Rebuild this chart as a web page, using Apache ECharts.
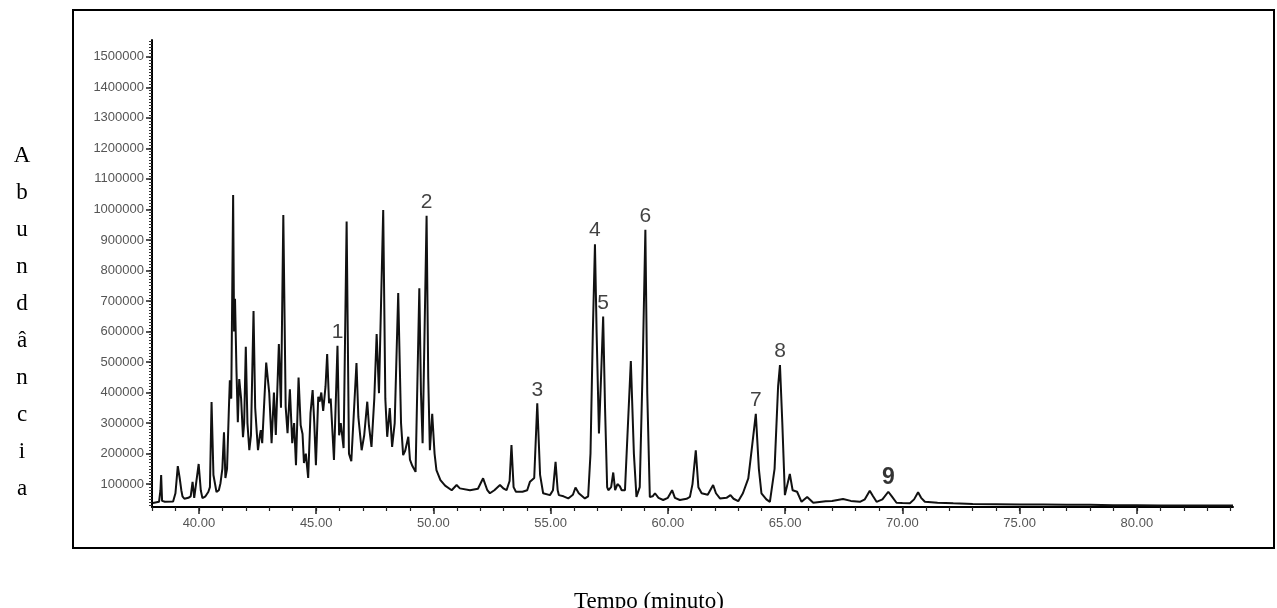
<!DOCTYPE html>
<html>
<head>
<meta charset="utf-8">
<script src="https://cdn.jsdelivr.net/npm/echarts@6/dist/echarts.min.js"></script>
<style>
html,body{margin:0;padding:0;background:#fff;}
#chart{width:1277px;height:608px;}
</style>
</head>
<body>
<div id="chart"></div>
<script>
// Retention time (minutes)
const times = [
38.04,38.30,38.36,38.39,38.43,38.55,38.90,39.00,39.10,39.18,39.25,39.30,39.38,39.55,39.65,39.73,39.80,39.88,39.99,40.08,
40.15,40.28,40.40,40.47,40.54,40.62,40.75,40.85,40.92,41.00,41.07,41.13,41.20,41.28,41.32,41.38,41.46,41.50,41.54,41.60,
41.66,41.72,41.80,41.88,41.93,42.00,42.07,42.15,42.22,42.33,42.40,42.47,42.52,42.60,42.64,42.70,42.87,43.00,43.10,43.20,
43.28,43.41,43.50,43.60,43.70,43.78,43.88,43.98,44.06,44.14,44.25,44.34,44.42,44.48,44.56,44.66,44.76,44.85,44.92,44.99,
45.09,45.15,45.22,45.30,45.40,45.47,45.55,45.62,45.76,45.85,45.91,45.98,46.05,46.17,46.30,46.40,46.50,46.58,46.72,46.80,
46.94,47.05,47.18,47.25,47.36,47.48,47.58,47.68,47.86,47.95,48.03,48.14,48.24,48.35,48.50,48.62,48.71,48.80,48.93,49.00,
49.10,49.24,49.40,49.47,49.54,49.71,49.78,49.85,49.95,49.99,50.05,50.13,50.30,50.50,50.78,50.99,51.13,51.56,51.90,52.12,
52.30,52.41,52.60,52.84,53.00,53.12,53.25,53.33,53.42,53.52,53.80,54.00,54.12,54.30,54.43,54.55,54.68,54.97,55.10,55.21,
55.30,55.35,55.55,55.75,55.95,56.06,56.20,56.46,56.60,56.70,56.80,56.89,56.96,57.06,57.15,57.24,57.32,57.41,57.46,57.58,
57.67,57.75,57.85,57.95,58.03,58.17,58.30,58.42,58.55,58.66,58.80,58.93,59.04,59.12,59.23,59.35,59.45,59.60,59.80,60.00,
60.18,60.30,60.51,60.80,60.94,61.05,61.19,61.30,61.44,61.70,61.93,62.05,62.22,62.50,62.67,62.80,63.00,63.20,63.43,63.60,
63.75,63.88,63.99,64.20,64.35,64.55,64.70,64.78,64.88,64.99,65.10,65.20,65.32,65.51,65.70,65.94,66.20,66.73,67.00,67.47,
67.80,68.19,68.40,68.61,68.75,68.90,69.15,69.40,69.55,69.75,70.00,70.32,70.50,70.67,70.80,70.96,71.50,72.17,73.00,74.00,
75.00,76.00,77.00,78.00,79.00,80.00,81.00,82.00,83.00,84.10
];
// Abundance
const abundance = [
38000,42000,80000,130000,45000,42000,43000,70000,159000,120000,80000,60000,52000,55000,60000,107000,55000,58000,166000,80000,
54000,60000,74000,90000,369000,130000,74000,80000,103000,150000,270000,120000,150000,350000,440000,380000,1047000,600000,707000,480000,
303000,444000,380000,254000,300000,550000,300000,211000,260000,667000,350000,267000,211000,260000,277000,234000,498000,398000,234000,400000,
261000,559000,350000,982000,354000,267000,411000,234000,300000,162000,449000,293000,264000,169000,200000,120000,333000,408000,300000,162000,
386000,370000,400000,340000,420000,526000,365000,380000,179000,400000,553000,260000,300000,218000,960000,200000,175000,169000,497000,320000,
211000,260000,370000,293000,222000,380000,592000,398000,998000,380000,255000,349000,222000,300000,726000,300000,195000,210000,255000,180000,
160000,140000,742000,400000,234000,979000,450000,211000,330000,333000,200000,146000,113000,95000,80000,97000,86000,80000,85000,119000,
80000,70000,80000,97000,85000,80000,110000,228000,90000,75000,75000,80000,108000,120000,365000,130000,70000,64000,80000,173000,
80000,64000,60000,53000,65000,89000,70000,53000,60000,200000,600000,886000,600000,266000,450000,649000,350000,90000,80000,90000,
138000,80000,100000,93000,80000,80000,300000,503000,200000,58000,90000,500000,933000,400000,58000,60000,70000,55000,48000,55000,
80000,55000,48000,52000,58000,100000,211000,90000,70000,65000,97000,70000,53000,55000,64000,52000,44000,70000,119000,230000,
330000,150000,70000,50000,42000,150000,420000,490000,300000,64000,100000,133000,80000,75000,42000,58000,39000,44000,45000,51000,
45000,42000,50000,78000,60000,42000,50000,75000,60000,39000,38000,37000,50000,73000,55000,42000,39000,37000,35000,34000,
33000,33000,32000,32000,31000,31000,30000,30000,30000,30000
];
// Peak annotations
const peakNames = ['1','2','3','4','5','6','7','8','9'];
const peakTimes = [45.91,49.71,54.43,56.89,57.24,59.04,63.75,64.78,69.40];
// Axis tick labels
const xTickLabels = [40,45,50,55,60,65,70,75,80];
const yTickLabels = [100000,200000,300000,400000,500000,600000,700000,800000,900000,1000000,1100000,1200000,1300000,1400000,1500000];
const xTitle = 'Tempo (minuto)';
const yTitle = 'Abundância';

const X_MIN = 38.0, X_MAX = 84.1, Y_MIN = 25000, Y_MAX = 1555000;

const series = times.map((t, i) => [t, abundance[i]]);
const peakPoints = peakTimes.map((pt, k) => {
  let best = 0;
  for (let i = 1; i < times.length; i++) {
    if (Math.abs(times[i] - pt) < Math.abs(times[best] - pt)) best = i;
  }
  return { value: [times[best], abundance[best]], name: peakNames[k],
    label: k === 8 ? { fontWeight: 'bold', fontSize: 23, color: '#000' } : {} };
});

const xMinor = []; for (let v = 38; v <= 84; v += 1) xMinor.push(v);
const yMinor = []; for (let v = 30000; v <= 1550000; v += 10000) yMinor.push(v);

const chart = echarts.init(document.getElementById('chart'), null, { renderer: 'canvas' });
const tickFont = { fontFamily: 'Liberation Sans, Arial, sans-serif', fontSize: 13, color: '#555' };

const letters = yTitle.split('');
const letterGraphics = letters.map((ch, i) => ({
  type: 'text', x: 22, y: 156 + i * 37, silent: true,
  style: { text: ch, fontFamily: 'Liberation Serif, Times New Roman, serif', fontSize: 23,
    fill: '#000', align: 'center', verticalAlign: 'middle' }
}));

chart.setOption({
  animation: false,
  backgroundColor: '#fff',
  grid: { left: 152, right: 44, top: 40, bottom: 101, containLabel: false },
  xAxis: [
    { type: 'value', min: X_MIN, max: X_MAX, position: 'bottom',
      axisLine: { show: true, onZero: false, lineStyle: { color: '#000', width: 2 } },
      axisTick: { show: true, customValues: xMinor, length: 4, lineStyle: { color: '#222', width: 1.2 } },
      axisLabel: { show: false }, splitLine: { show: false } },
    { type: 'value', min: X_MIN, max: X_MAX, position: 'bottom',
      axisLine: { show: false, onZero: false },
      axisTick: { show: true, customValues: xTickLabels, length: 7, lineStyle: { color: '#222', width: 1.5 } },
      axisLabel: Object.assign({ show: true, customValues: xTickLabels, margin: 10,
        formatter: v => Number(v).toFixed(2) }, tickFont),
      splitLine: { show: false } }
  ],
  yAxis: [
    { type: 'value', min: Y_MIN, max: Y_MAX, position: 'left',
      axisLine: { show: true, onZero: false, lineStyle: { color: '#000', width: 2 } },
      axisTick: { show: true, customValues: yMinor, length: 3, lineStyle: { color: '#333', width: 1 } },
      axisLabel: { show: false }, splitLine: { show: false } },
    { type: 'value', min: Y_MIN, max: Y_MAX, position: 'left',
      axisLine: { show: false, onZero: false },
      axisTick: { show: true, customValues: yTickLabels, length: 6, lineStyle: { color: '#222', width: 1.5 } },
      axisLabel: Object.assign({ show: true, customValues: yTickLabels, margin: 8,
        formatter: v => String(Math.round(v)) }, tickFont),
      splitLine: { show: false } }
  ],
  series: [
    { type: 'line', xAxisIndex: 0, yAxisIndex: 0, data: series, showSymbol: false, symbol: 'none',
      lineStyle: { color: '#111', width: 2 }, smooth: false },
    { type: 'scatter', xAxisIndex: 0, yAxisIndex: 0, data: peakPoints, symbolSize: 0,
      label: { show: true, position: 'top', distance: 3, formatter: p => p.name,
        fontFamily: 'Liberation Sans, Arial, sans-serif', fontSize: 21, color: '#111' } }
  ],
  graphic: [
    { type: 'rect', shape: { x: 73, y: 10, width: 1201, height: 538 },
      style: { fill: 'none', stroke: '#000', lineWidth: 2 }, silent: true }
  ].concat(letterGraphics, [
    { type: 'text', x: 649, y: 602, silent: true,
      style: { text: xTitle, fontFamily: 'Liberation Serif, Times New Roman, serif', fontSize: 23,
        fill: '#000', align: 'center', verticalAlign: 'middle' } }
  ])
});
</script>
</body>
</html>
